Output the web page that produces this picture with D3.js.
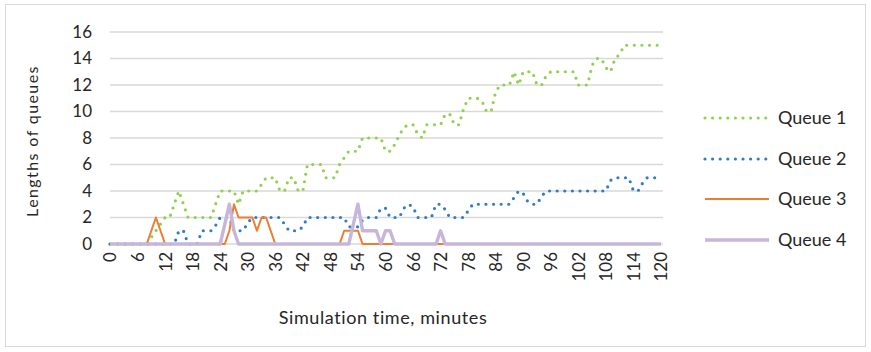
<!DOCTYPE html>
<html><head><meta charset="utf-8">
<script src="https://cdn.jsdelivr.net/npm/d3@7/dist/d3.min.js"></script>
<style>
html,body{margin:0;padding:0;background:#fff;}
svg{display:block;font-family:Lato,"Open Sans",sans-serif;}
</style></head>
<body>
<svg id="chart" width="871" height="352"></svg>
<script>
// time in minutes, 0..120
const times = d3.range(0, 121);
const yTicks = [0, 2, 4, 6, 8, 10, 12, 14, 16];
const xTickLabels = [0,6,12,18,24,30,36,42,48,54,60,66,72,78,84,90,96,102,108,114,120];
const seriesNames = ["Queue 1", "Queue 2", "Queue 3", "Queue 4"];

const queue1 = [
 0,0,0,0,0,0,0,0,0,0.5, 1,1.5,2,2,3,4,3,2,2,2,
 2,2,2,3,4,4,4,4,3,4, 4,4,4,4.5,5,5,5,4,4,5,
 5,4,4,6,6,6,6,5,5,5, 6,6.5,7,7,7,8,8,8,8,8,
 7,7,7.5,8.2,8.8,9,9,8.3,8,9, 9,9,9,9.8,9.8,9,9,10.2,11,11,
 11,10.8,10,10,11.5,12,12,12,13,12, 13,13,13,12,12,12.7,13,13,13,13,
 13,13,12,12,12,13.5,14,14,13.3,13, 14,14.3,15,15,15,15,15,15,15,15,
 15];
const queue2 = [
 0,0,0,0,0,0,0,0,0,0, 0,0,0,0,0,1,1,0,0,0,
 1,1,1,1.4,2,2,2,1,1,1, 1.6,2,2,2,2,2,2,2,1.5,1,
 1,1,1.3,2,2,2,2,2,2,2, 2,2,1.3,1.3,1.3,1.8,2,2,2,2.7,
 2.7,2,2,2,2.7,3,2.8,2,2,2, 2,3,3,2.6,2,2,2,2,2.5,3,
 3,3,3,3,3,3,3,3,3.5,4, 3.8,3.2,3,3,3.6,4,4,4,4,4,
 4,4,4,4,4,4,4,4,4,4.8, 5,5,5,5,4,4,4.6,5,5,5,
 5];
const queue3 = [
 0,0,0,0,0,0,0,0,0,1, 2,1,0,0,0,0,0,0,0,0,
 0,0,0,0,0,0,1,3,2,2, 2,2,1,2,2,1,0,0,0,0,
 0,0,0,0,0,0,0,0,0,0, 0,1,1,1,1,0,0,0,0,0,
 0,0,0,0,0,0,0,0,0,0, 0,0,0,0,0,0,0,0,0,0,
 0,0,0,0,0,0,0,0,0,0, 0,0,0,0,0,0,0,0,0,0,
 0,0,0,0,0,0,0,0,0,0, 0,0,0,0,0,0,0,0,0,0,
 0];
const queue4 = [
 0,0,0,0,0,0,0,0,0,0, 0,0,0,0,0,0,0,0,0,0,
 0,0,0,0,0,1.5,3,1,0,0, 0,0,0,0,0,0,0,0,0,0,
 0,0,0,0,0,0,0,0,0,0, 0,0,0,1.5,3,1,1,1,1,0,
 1,1,0,0,0,0,0,0,0,0, 0,0,1,0,0,0,0,0,0,0,
 0,0,0,0,0,0,0,0,0,0, 0,0,0,0,0,0,0,0,0,0,
 0,0,0,0,0,0,0,0,0,0, 0,0,0,0,0,0,0,0,0,0,
 0];

const styles = [
  {color:"#92d050", width:3.2, dash:"0 7.6", cap:"round"},
  {color:"#2f7dc4", width:3.2, dash:"0 7.6", cap:"round"},
  {color:"#ed7d31", width:2, dash:null, cap:"butt"},
  {color:"#c6b6da", width:3.4, dash:null, cap:"butt"}
];
const allSeries = [queue1, queue2, queue3, queue4];

const svg = d3.select("#chart");
svg.append("rect").attr("x",5.5).attr("y",4.5).attr("width",860).attr("height",342)
  .attr("fill","#fff").attr("stroke","#d9d9d9").attr("stroke-width",1);

const x = d3.scaleLinear().domain([0,120]).range([110,661]);
const y = d3.scaleLinear().domain([0,16]).range([244,32]);

// gridlines
svg.append("g").selectAll("line").data(yTicks).join("line")
  .attr("x1",110).attr("x2",663)
  .attr("y1",d=>y(d)).attr("y2",d=>y(d))
  .attr("stroke","#d9d9d9").attr("stroke-width",1.5);

// y axis labels
const yAxis = d3.axisLeft(y).tickValues(yTicks).tickSize(0).tickPadding(18);
const gy = svg.append("g").attr("transform","translate(110,0)").call(yAxis);
gy.select(".domain").remove();
gy.selectAll("text").attr("font-size",17).attr("fill","#262626").attr("font-family","Lato");

// x axis labels
const xAxis = d3.axisBottom(x).tickValues(xTickLabels).tickSize(0).tickPadding(0);
const gx = svg.append("g").attr("transform","translate(0,244)").call(xAxis);
gx.select(".domain").remove();
gx.selectAll("text")
  .attr("font-size",17).attr("fill","#262626").attr("font-family","Lato")
  .attr("text-anchor","end").attr("y",0)
  .attr("transform","translate(0,8) rotate(-90)").attr("x",0).attr("dy","0.35em");

// lines (purple drawn last, on top)
const line = d3.line().x((d,i)=>x(times[i])).y(d=>y(d));
[0,1,2,3].forEach(k=>{
  const s = styles[k];
  const p = svg.append("path").datum(allSeries[k]).attr("d",line)
    .attr("fill","none").attr("stroke",s.color).attr("stroke-width",s.width)
    .attr("stroke-linecap",s.cap).attr("stroke-linejoin","round");
  if (s.dash) p.attr("stroke-dasharray",s.dash);
});

// axis titles
svg.append("text").attr("transform","translate(38,141) rotate(-90)")
  .attr("text-anchor","middle").attr("font-size",16).attr("letter-spacing","1.4px")
  .attr("fill","#262626").text("Lengths of queues");
svg.append("text").attr("x",383).attr("y",324).attr("text-anchor","middle")
  .attr("font-size",18).attr("letter-spacing","0.6px").attr("fill","#262626").text("Simulation time, minutes");

// legend
const legY = [118,159,199,240];
const lg = svg.append("g");
seriesNames.forEach((n,k)=>{
  const s = styles[k];
  const l = lg.append("line").attr("x1",705).attr("x2",769).attr("y1",legY[k]).attr("y2",legY[k])
    .attr("stroke",s.color).attr("stroke-width",s.width).attr("stroke-linecap",s.cap);
  if (s.dash) l.attr("stroke-dasharray",s.dash);
  lg.append("text").attr("x",778).attr("y",legY[k]).attr("dy","0.35em")
    .attr("font-size",18).attr("fill","#262626").text(n);
});
</script>
</body></html>
